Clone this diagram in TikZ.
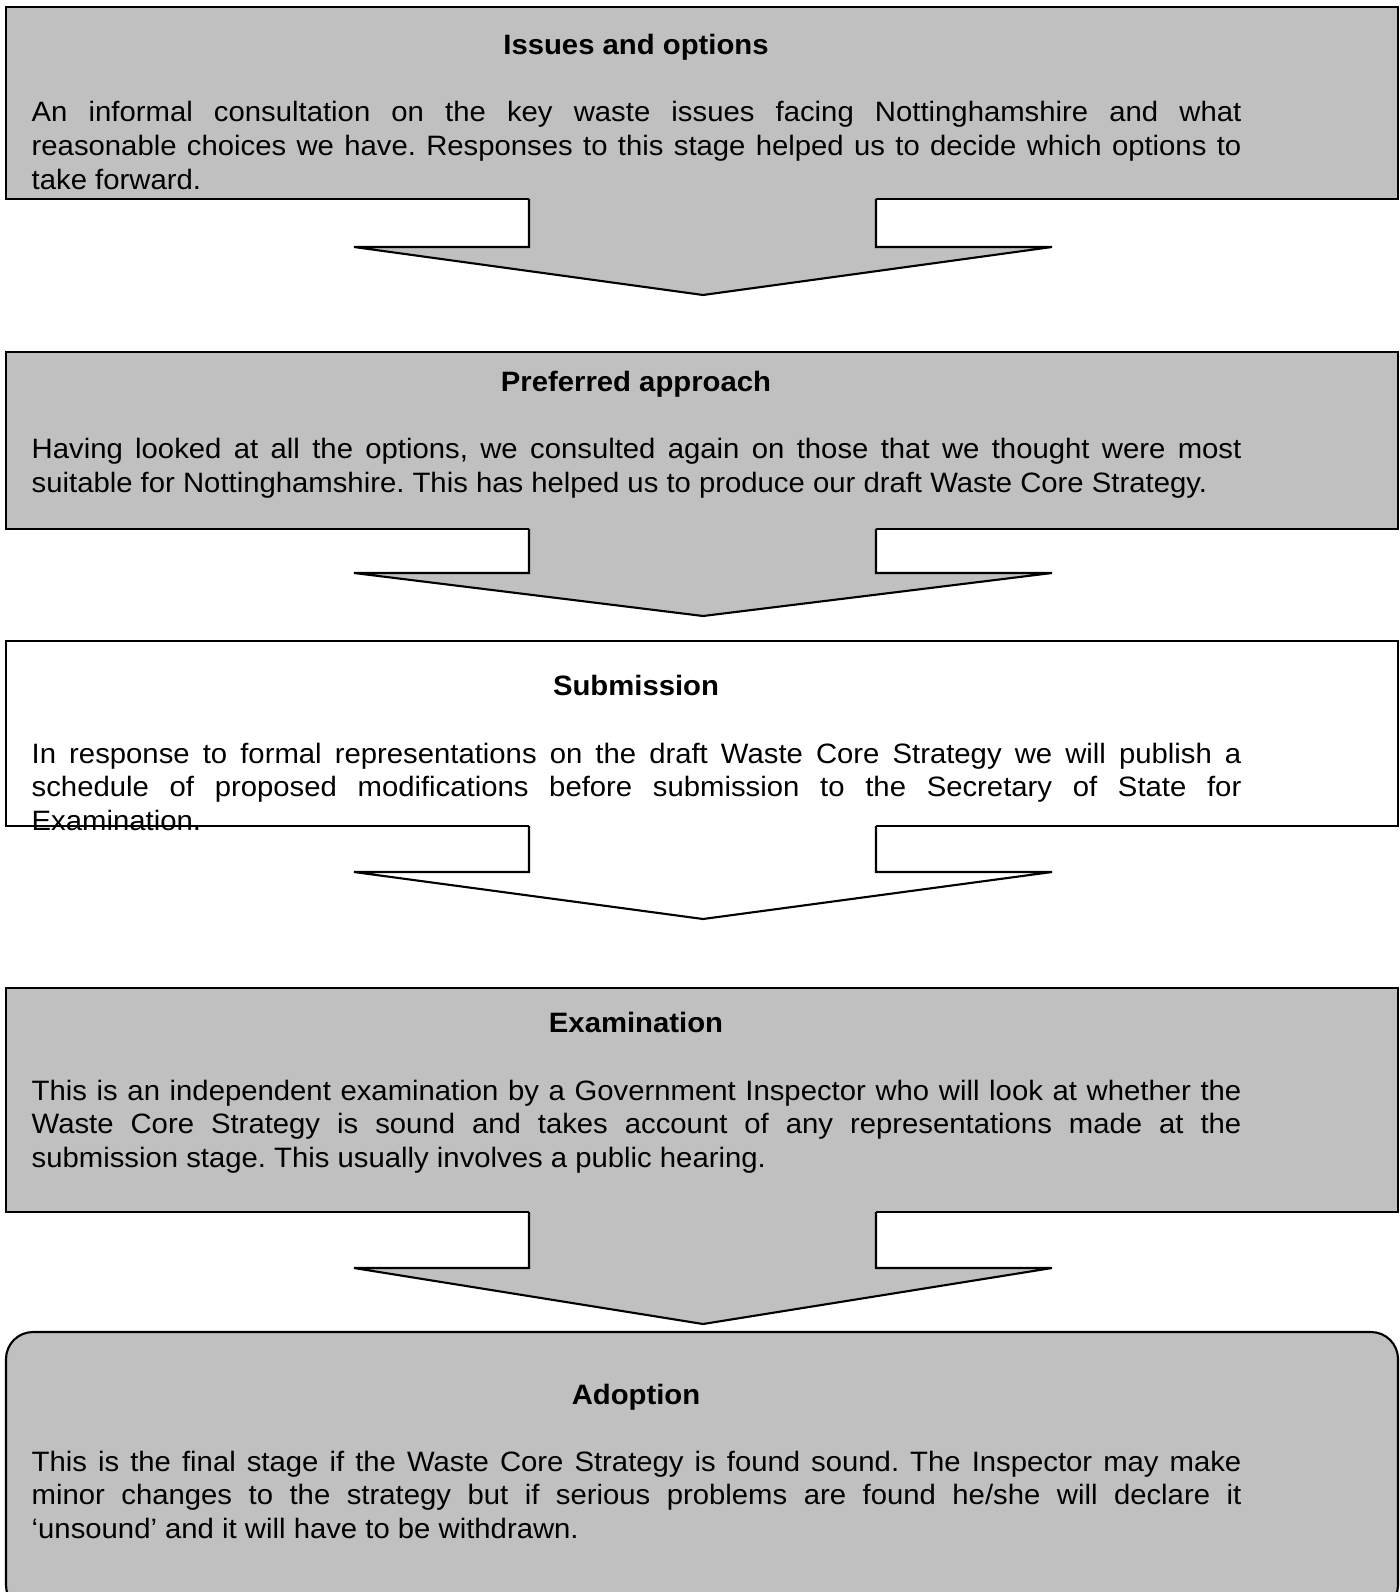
\documentclass[tikz,border=0pt]{standalone}
\usepackage{fontspec}
\setmainfont{Liberation Sans}[FakeStretch=1.045]
\definecolor{stagegray}{RGB}{192,192,192}
\hyphenpenalty=10000
\frenchspacing
\tikzset{
  stagebox/.style={draw=black, line width=0.6pt, fill=stagegray},
  stagetitle/.style={anchor=base, inner sep=0pt, font=\fontsize{7.97}{9.53}\selectfont\bfseries},
  stagebody/.style={anchor=base west, inner sep=0pt, text width=12.09cm, align=justify,
    font=\fontsize{7.97}{9.53}\selectfont},
}
\begin{document}
\begin{tikzpicture}[x=0.01cm,y=-0.01cm]
    \clip (0,0) rectangle (1399,1592);

    % stage boxes
    \draw[stagebox] (6,7) rectangle (1398,199);
    \draw[stagebox] (6,352) rectangle (1398,529);
    \draw[stagebox, fill=white] (6,641) rectangle (1398,826);
    \draw[stagebox] (6,988) rectangle (1398,1212);
    \draw[stagebox, rounded corners=0.27cm] (6,1332) rectangle (1398,1612);

    % block arrows between the stages
    \fill[stagegray] (529,196) -- (529,247) -- (354,247) -- (703,295) -- (1052,247) -- (876,247) -- (876,196) -- cycle;
    \draw[line width=0.6pt] (529,199) -- (529,247) -- (354,247) -- (703,295) -- (1052,247) -- (876,247) -- (876,199);
    \fill[stagegray] (529,526) -- (529,573) -- (354,573) -- (703,616) -- (1052,573) -- (876,573) -- (876,526) -- cycle;
    \draw[line width=0.6pt] (529,529) -- (529,573) -- (354,573) -- (703,616) -- (1052,573) -- (876,573) -- (876,529);
    \fill[white] (529,823) -- (529,872) -- (354,872) -- (703,919) -- (1052,872) -- (876,872) -- (876,823) -- cycle;
    \draw[line width=0.6pt] (529,826) -- (529,872) -- (354,872) -- (703,919) -- (1052,872) -- (876,872) -- (876,826);
    \fill[stagegray] (529,1209) -- (529,1268) -- (354,1268) -- (703,1324) -- (1052,1268) -- (876,1268) -- (876,1209) -- cycle;
    \draw[line width=0.6pt] (529,1212) -- (529,1268) -- (354,1268) -- (703,1324) -- (1052,1268) -- (876,1268) -- (876,1212);

    % texts
    \node[stagetitle] (issues) at (636,55) {Issues and options};
    \node[stagebody] (issuestext) at (31,122) {An informal consultation on the key waste issues facing Nottinghamshire and what\linebreak reasonable choices we have. Responses to this stage helped us to decide which options to\linebreak take forward.};

    \node[stagetitle] (preferred) at (636,392) {Preferred approach};
    \node[stagebody] (preferredtext) at (31,459) {Having looked at all the options, we consulted again on those that we thought were most\linebreak suitable for Nottinghamshire. This has helped us to produce our draft Waste Core Strategy.};

    \node[stagetitle] (submission) at (636,695) {Submission};
    \node[stagebody] (submissiontext) at (31,763) {In response to formal representations on the draft Waste Core Strategy we will publish a\linebreak schedule of proposed modifications before submission to the Secretary of State for\linebreak Examination.};

    \node[stagetitle] (examination) at (636,1032) {Examination};
    \node[stagebody] (examinationtext) at (31,1100) {This is an independent examination by a Government Inspector who will look at whether the\linebreak Waste Core Strategy is sound and takes account of any representations made at the\linebreak submission stage. This usually involves a public hearing.};

    \node[stagetitle] (adoption) at (636,1404) {Adoption};
    \node[stagebody] (adoptiontext) at (31,1471) {This is the final stage if the Waste Core Strategy is found sound. The Inspector may make\linebreak minor changes to the strategy but if serious problems are found he/she will declare it\linebreak ‘unsound’ and it will have to be withdrawn.};
\end{tikzpicture}
\end{document}
